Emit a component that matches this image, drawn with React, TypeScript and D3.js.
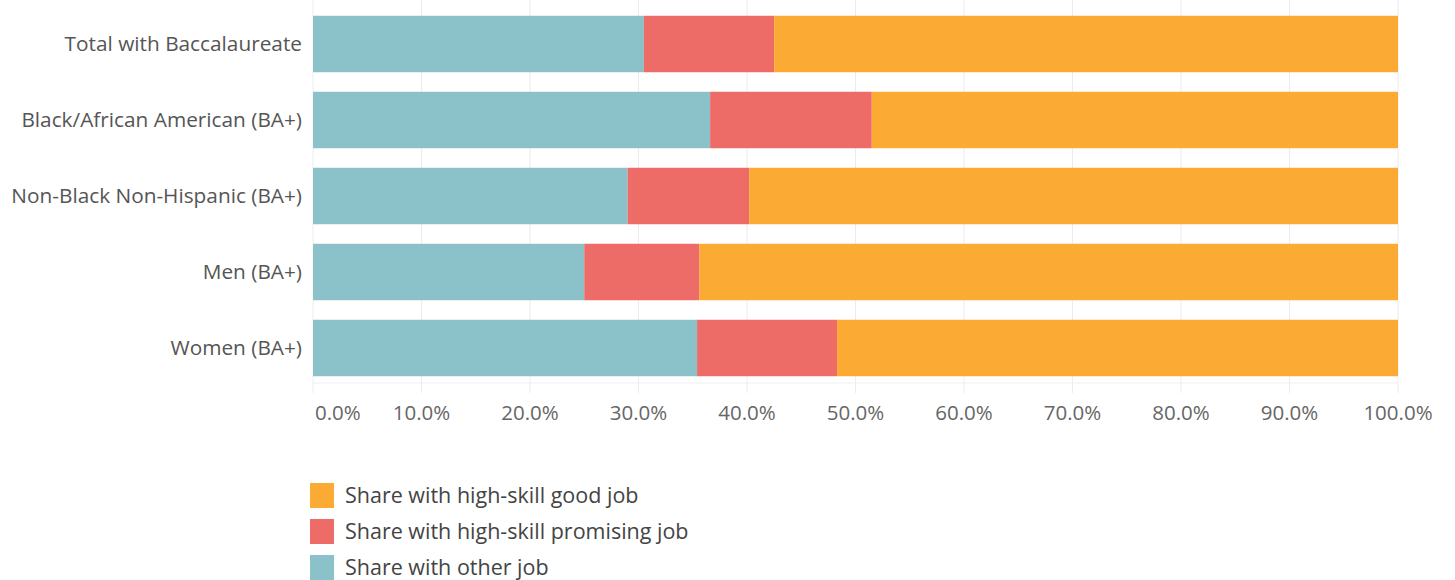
import React from "react";
import * as d3 from "d3";

const categories = [
  "Total with Baccalaureate",
  "Black/African American (BA+)",
  "Non-Black Non-Hispanic (BA+)",
  "Men (BA+)",
  "Women (BA+)",
];
const otherJob = [30.5, 36.6, 29.0, 25.0, 35.4];
const promisingJob = [12.0, 14.9, 11.2, 10.6, 12.9];
const goodJob = [57.5, 48.5, 59.8, 64.4, 51.7];
const seriesKeys = ["other", "promising", "good"];
const legendKeys = ["good", "promising", "other"];
const legendNames = [
  "Share with high-skill good job",
  "Share with high-skill promising job",
  "Share with other job",
];
const xTicks = [0, 10, 20, 30, 40, 50, 60, 70, 80, 90, 100];

const colors: Record<string, string> = {
  other: "#8bc1c8",
  promising: "#ee6c67",
  good: "#fbaa34",
};

const FONT = "'Open Sans', 'Noto Sans', sans-serif";

export default function App() {
  const rows = categories.map((c, i) => ({
    cat: c,
    other: otherJob[i],
    promising: promisingJob[i],
    good: goodJob[i],
  }));
  const stack = d3.stack<any>().keys(seriesKeys);
  const stacked = stack(rows);

  const x = d3.scaleLinear().domain([0, 100]).range([313, 1398]);
  const y = d3
    .scaleBand<string>()
    .domain(categories)
    .range([6, 386])
    .paddingInner(0.257)
    .paddingOuter(0.1285);

  return (
    <svg
      width={1455}
      height={580}
      style={{ position: "absolute", left: 0, top: 0, background: "#fff" }}
    >
      {xTicks.map((t) => (
        <line
          key={"g" + t}
          x1={x(t)}
          x2={x(t)}
          y1={0}
          y2={393}
          stroke="#ececec"
          strokeWidth={1}
        />
      ))}
      <line x1={313} x2={1398} y1={383} y2={383} stroke="#efefef" strokeWidth={1} />
      {stacked.map((s) => (
        <g key={s.key} fill={colors[s.key]}>
          {s.map((d, i) => (
            <rect
              key={i}
              x={x(d[0])}
              width={x(d[1]) - x(d[0])}
              y={y(categories[i])}
              height={y.bandwidth()}
            />
          ))}
        </g>
      ))}
      {categories.map((c) => (
        <text
          key={c}
          x={302}
          y={(y(c) as number) + y.bandwidth() / 2}
          dy="0.35em"
          textAnchor="end"
          fontFamily={FONT}
          fontSize={20.8}
          fill="#555"
        >
          {c}
        </text>
      ))}
      {xTicks.map((t, i) => (
        <text
          key={"t" + t}
          x={i === 0 ? x(t) + 2 : x(t)}
          y={413}
          dy="0.35em"
          textAnchor={i === 0 ? "start" : "middle"}
          fontFamily={FONT}
          fontSize={20.5}
          fill="#666"
        >
          {d3.format(".1f")(t) + "%"}
        </text>
      ))}
      {legendKeys.map((k, i) => (
        <g key={k} transform={`translate(310, ${483 + i * 36})`}>
          <rect width={24} height={25} fill={colors[k]} />
          <text
            x={35}
            y={12.5}
            dy="0.35em"
            fontFamily={FONT}
            fontSize={21.5}
            fill="#444"
          >
            {legendNames[i]}
          </text>
        </g>
      ))}
    </svg>
  );
}
